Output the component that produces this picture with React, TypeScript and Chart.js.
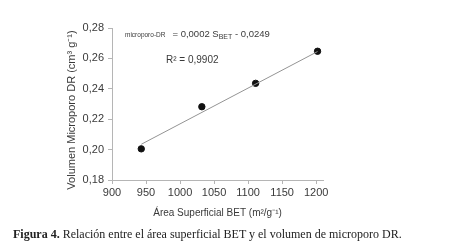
import React, { useEffect, useRef } from "react";
import { Chart, registerables } from "chart.js";

Chart.register(...registerables);

const areaBET = [943, 1032, 1111, 1202];
const volumenDR = [0.2005, 0.2282, 0.2436, 0.2647];
const trendX = [943, 1202];
const trendY = [0.2035, 0.2645];
const xTicks = [900, 950, 1000, 1050, 1100, 1150, 1200];
const yTicks = [0.18, 0.2, 0.22, 0.24, 0.26, 0.28];
const eqPrefix = "microporo-DR";
const eqMain = "= 0,0002 S";
const eqSub = "BET";
const eqTail = " - 0,0249";
const r2Text = "R² = 0,9902";
const xTitle = "Área Superficial BET (m²/g⁻¹)";
const yTitle = "Volumen Microporo DR (cm³ g⁻¹)";
const caption = "Relación entre el área superficial BET y el volumen de microporo DR.";

const FONT = "'Liberation Sans', Arial, sans-serif";
const TXT = "#3a3a3a";

const textPlugin = {
  id: "texts",
  afterDraw(chart: any) {
    const ctx = chart.ctx;
    const a = chart.chartArea;
    ctx.save();
    ctx.fillStyle = TXT;
    ctx.textBaseline = "alphabetic";
    // equation
    let x = 125;
    const by = 37;
    ctx.font = `6.5px ${FONT}`;
    ctx.fillText(eqPrefix, x, by);
    x += ctx.measureText(eqPrefix).width + 7;
    ctx.font = `9.5px ${FONT}`;
    ctx.fillText(eqMain, x, by);
    x += ctx.measureText(eqMain).width;
    ctx.font = `7px ${FONT}`;
    ctx.fillText(eqSub, x, by + 2);
    x += ctx.measureText(eqSub).width;
    ctx.font = `9.5px ${FONT}`;
    ctx.fillText(eqTail, x, by);
    // R2
    ctx.font = `10px ${FONT}`;
    ctx.fillText(r2Text, 166, 63);
    // x title
    ctx.font = `10px ${FONT}`;
    ctx.textAlign = "center";
    ctx.fillText(xTitle, (a.left + a.right) / 2, 216);
    // y title
    ctx.translate(75, 110);
    ctx.rotate(-Math.PI / 2);
    ctx.font = `11px ${FONT}`;
    ctx.fillText(yTitle, 0, 0);
    ctx.restore();
  },
};

export default function App() {
  const ref = useRef<HTMLCanvasElement>(null);
  useEffect(() => {
    document.body.style.margin = "0";
    const chart = new Chart(ref.current!, {
      type: "scatter",
      data: {
        datasets: [
          {
            type: "line",
            data: trendX.map((x, i) => ({ x, y: trendY[i] })),
            borderColor: "#949494",
            borderWidth: 1,
            pointRadius: 0,
            fill: false,
          },
          {
            data: areaBET.map((x, i) => ({ x, y: volumenDR[i] })),
            backgroundColor: "#111",
            borderColor: "#111",
            pointRadius: 3.2,
          },
        ],
      },
      options: {
        animation: false,
        responsive: false,
        events: [],
        layout: { padding: { left: 0, right: 134, top: 28, bottom: 0 } },
        plugins: { legend: { display: false }, tooltip: { enabled: false } },
        scales: {
          x: {
            type: "linear",
            min: 900,
            max: 1210,
            afterBuildTicks: (s: any) => {
              s.ticks = xTicks.map((v) => ({ value: v }));
            },
            afterFit: (s: any) => {
              s.height = 251 - 180;
            },
            grid: {
              drawOnChartArea: false,
              drawTicks: true,
              tickLength: 4,
              color: "#b5b5b5",
            },
            border: { color: "#b5b5b5" },
            ticks: {
              color: TXT,
              font: { family: FONT, size: 11 },
              padding: 2,
              maxRotation: 0,
              autoSkip: false,
              callback: (v: any) => String(v),
            },
          },
          y: {
            type: "linear",
            min: 0.18,
            max: 0.28,
            afterBuildTicks: (s: any) => {
              s.ticks = yTicks.map((v) => ({ value: v }));
            },
            afterFit: (s: any) => {
              s.width = 112;
            },
            grid: {
              drawOnChartArea: false,
              drawTicks: true,
              tickLength: 4,
              color: "#b5b5b5",
            },
            border: { color: "#b5b5b5" },
            ticks: {
              color: TXT,
              font: { family: FONT, size: 11 },
              padding: 4,
              callback: (v: any) => Number(v).toFixed(2).replace(".", ","),
            },
          },
        },
      },
      plugins: [textPlugin],
    });
    return () => chart.destroy();
  }, []);
  return (
    <div style={{ position: "relative", width: 457, height: 251, background: "#fff" }}>
      <canvas ref={ref} width={457} height={251} style={{ position: "absolute", left: 0, top: 0 }} />
      <div
        style={{
          position: "absolute",
          left: 13,
          top: 227,
          fontFamily: "'Liberation Serif', 'Times New Roman', serif",
          fontSize: 12,
          color: "#222",
          whiteSpace: "nowrap",
        }}
      >
        <b>Figura 4.</b> {caption}
      </div>
    </div>
  );
}
